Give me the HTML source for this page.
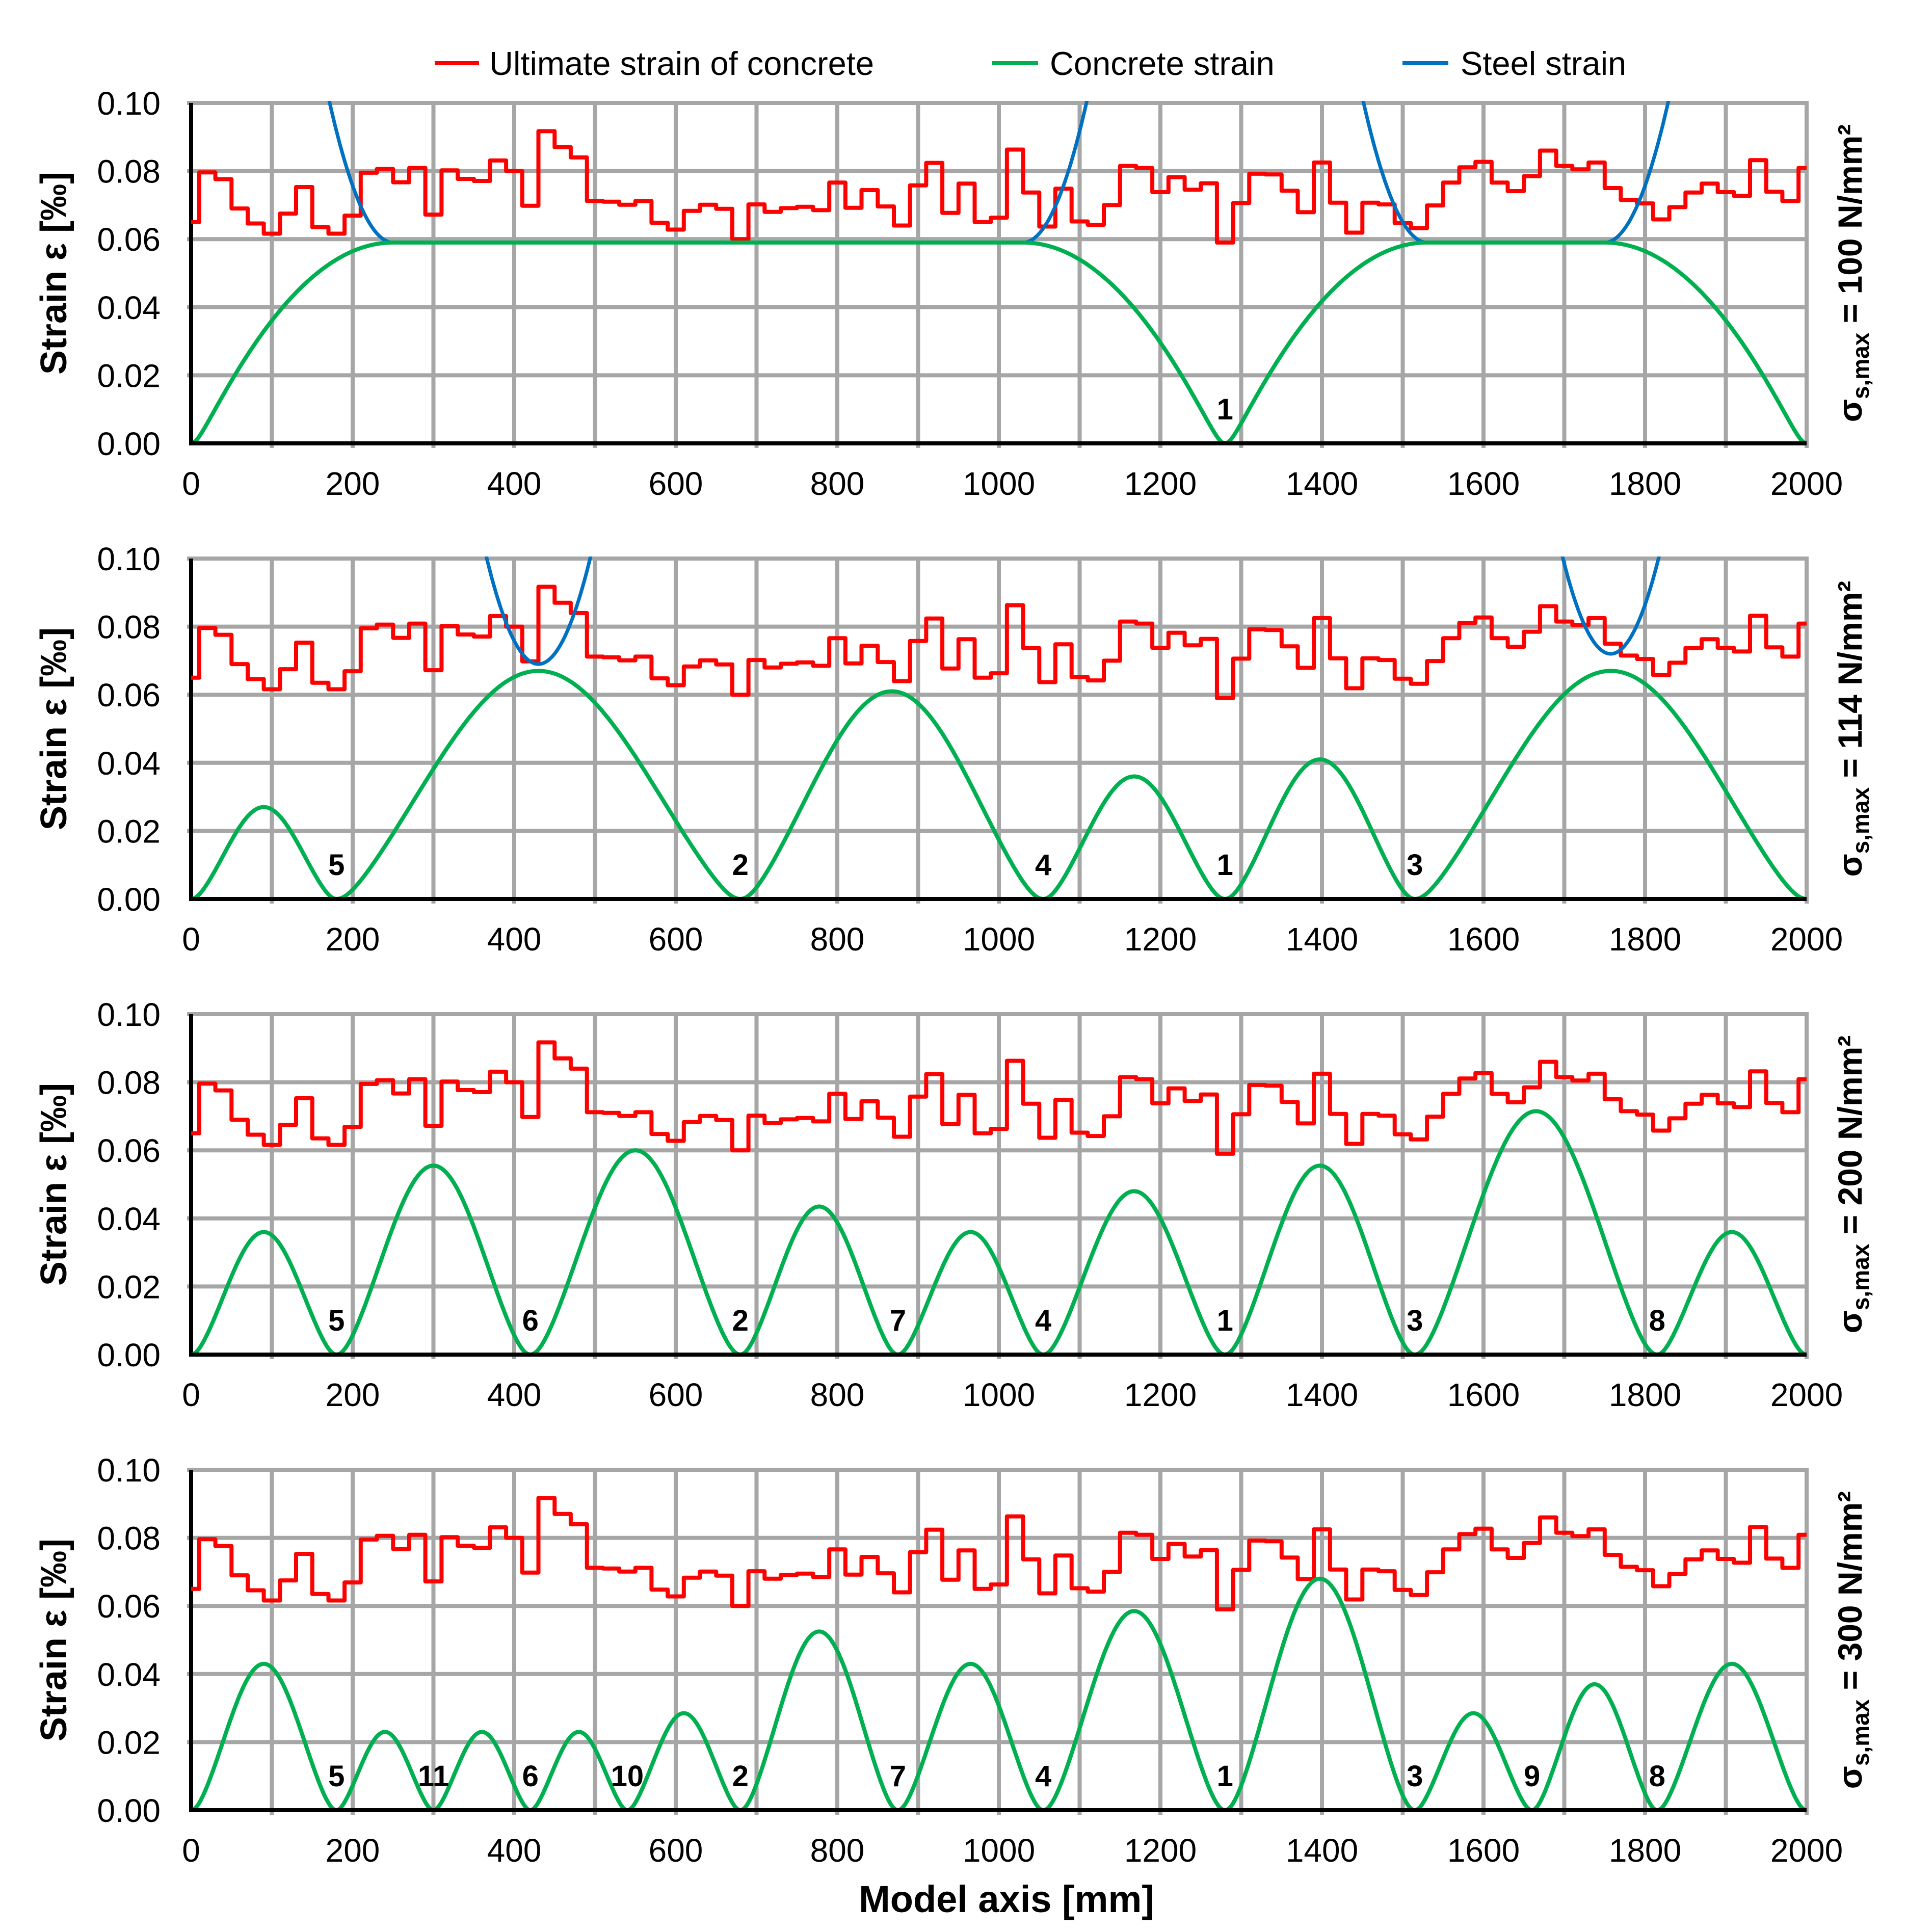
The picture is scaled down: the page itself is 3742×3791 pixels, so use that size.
<!DOCTYPE html>
<html><head><meta charset="utf-8"><title>Strain chart</title>
<style>html,body{margin:0;padding:0;background:#fff}svg{display:block}text{font-family:"Liberation Sans",Arial,sans-serif}</style>
</head><body>
<svg id="chart" xmlns="http://www.w3.org/2000/svg" width="3742" height="3791" viewBox="0 0 3742 3791">
<rect x="0" y="0" width="3742" height="3791" fill="#fff"/>
<g>
<line x1="853" y1="124" x2="940" y2="124" stroke="#ff0000" stroke-width="8"/>
<text x="960" y="147" font-size="65">Ultimate strain of concrete</text>
<line x1="1947" y1="124" x2="2037" y2="124" stroke="#00b050" stroke-width="8"/>
<text x="2060" y="147" font-size="65">Concrete strain</text>
<line x1="2752" y1="124" x2="2842" y2="124" stroke="#0070c0" stroke-width="8"/>
<text x="2866" y="147" font-size="65">Steel strain</text>
</g>
<text x="1975" y="3752" font-size="74" font-weight="bold" text-anchor="middle">Model axis [mm]</text>
<g id="panels"></g>
</svg>
<script>
// ---- data ----
const stepStarts = [0,10,30,50,70,90,110,130,150,170,190,210,230,250,270,290,310,330,350,370,390,410,430,450,470,490,510,530,550,570,590,610,630,650,670,690,710,730,750,770,790,810,830,850,870,890,910,930,950,970,990,1010,1030,1050,1070,1090,1110,1130,1150,1170,1190,1210,1230,1250,1270,1290,1310,1330,1350,1370,1390,1410,1430,1450,1470,1490,1510,1530,1550,1570,1590,1610,1630,1650,1670,1690,1710,1730,1750,1770,1790,1810,1830,1850,1870,1890,1910,1930,1950,1970,1990];
const ultimateStrain = [0.065,0.0796,0.0776,0.069,0.0646,0.0616,0.0675,0.0753,0.0635,0.0616,0.0669,0.0795,0.0806,0.0767,0.0809,0.0672,0.0802,0.0777,0.0771,0.0831,0.080,0.0698,0.0917,0.087,0.084,0.0712,0.071,0.0701,0.0712,0.0648,0.0628,0.0683,0.0701,0.0689,0.060,0.0702,0.068,0.0691,0.0695,0.0685,0.0766,0.0692,0.0744,0.0696,0.064,0.0758,0.0824,0.0677,0.0763,0.065,0.0663,0.0863,0.0737,0.0637,0.0748,0.0652,0.0642,0.070,0.0815,0.0809,0.0738,0.0782,0.0745,0.0764,0.059,0.0706,0.0792,0.079,0.0742,0.0679,0.0825,0.0707,0.0619,0.0707,0.0702,0.0647,0.0632,0.0699,0.0766,0.0811,0.0827,0.0766,0.0741,0.0785,0.086,0.0815,0.0805,0.0825,0.075,0.0715,0.0705,0.0658,0.0694,0.0737,0.0763,0.0738,0.0727,0.0832,0.0739,0.0712,0.0809];
const stepEnd = 2000;
const panelStress = ["100","114","200","300"];
const steelAtCrack = [0.476,0.543,0.952,1.43];
const transferLength = 250;
const cracks1 = [0,1280,2000];
const peaks1 = [0.059,0.059];
const cracks2 = [0,180,680,1055,1280,1515,2000];
const peaks2 = [0.027,0.067,0.061,0.036,0.041,0.067];
const cracks3 = [0,180,420,680,875,1055,1280,1515,1815,2000];
const peaks3 = [0.036,0.0555,0.060,0.0435,0.036,0.048,0.0555,0.0715,0.036];
const cracks4 = [0,180,300,420,540,680,875,1055,1280,1515,1660,1815,2000];
const peaks4 = [0.043,0.023,0.023,0.023,0.0285,0.0525,0.043,0.0585,0.068,0.0285,0.037,0.043];
const crackPos2 = [180,680,1055,1280,1515];
const crackNum2 = ["5","2","4","1","3"];
const crackPos3 = [180,420,680,875,1055,1280,1515,1815];
const crackNum3 = ["5","6","2","7","4","1","3","8"];
const crackPos4 = [180,300,420,540,680,875,1055,1280,1515,1660,1815];
const crackNum4 = ["5","11","6","10","2","7","4","1","3","9","8"];
const crackPos1 = [1280];
const crackNum1 = ["1"];
const steelSegStart1 = [0,1280], steelSegEnd1 = [1280,2000], steelMin1 = [0.059,0.059];
const steelSegStart2 = [180,1515], steelSegEnd2 = [680,2000], steelMin2 = [0.069,0.072];
const xTicks = [0,200,400,600,800,1000,1200,1400,1600,1800,2000];
const yTicks = [0,0.02,0.04,0.06,0.08,0.10];
const yTickLabels = ["0.00","0.02","0.04","0.06","0.08","0.10"];

const panelCracks=[cracks1,cracks2,cracks3,cracks4];
const panelPeaks=[peaks1,peaks2,peaks3,peaks4];
const panelCrackPos=[crackPos1,crackPos2,crackPos3,crackPos4];
const panelCrackNum=[crackNum1,crackNum2,crackNum3,crackNum4];
const panelSteel=[[steelSegStart1,steelSegEnd1,steelMin1],[steelSegStart2,steelSegEnd2,steelMin2],[[],[],[]],[[],[],[]]];

// ---- layout ----
const NS="http://www.w3.org/2000/svg";
const X0=375, X1=3545, H=668;
const tops=[202,1096,1990,2884];
function xs(mm){return X0+(mm/2000)*(X1-X0);}
function mk(tag,attrs,parent){const e=document.createElementNS(NS,tag);for(const k in attrs)e.setAttribute(k,attrs[k]);parent.appendChild(e);return e;}
function soft(d,c){return Math.sqrt(d*d+c*c)-c;}
function shape(d,h){
  if(h>transferLength){
    const c=10;
    const t=Math.min(soft(d,c)/soft(transferLength,c),1);
    return 1-(1-t)*(1-t);
  }
  const c=Math.min(0.16*h,22);
  const t=soft(d,c)/soft(h,c);
  const q=1-(1-t)*(1-t), cs=(1-Math.cos(Math.PI*t))/2;
  return 0.6*q+0.4*cs;
}
function shapeSteel(d,h){let t; if(h>transferLength){t=Math.min(d/transferLength,1);}else{t=d/h;} return 1-(1-t)*(1-t);}

const root=document.getElementById('panels');
for(let p=0;p<4;p++){
  const top=tops[p], zero=top+H;
  const ys=v=>zero-(v/0.1)*H;
  const g=mk('g',{},root);
  
  
  const cid='clip'+p;
  const cp=mk('clipPath',{id:cid},g);
  mk('rect',{x:X0,y:top-4,width:X1-X0+6,height:H+8},cp);
  for(let mm=100;mm<=2000;mm+=100){
    const l=mk('line',{x1:xs(mm),y1:top,x2:xs(mm),y2:zero+9,stroke:'#a6a6a6','stroke-width':8},g);
    
    
  }
  for(let i=1;i<yTicks.length;i++){
    const l=mk('line',{x1:X0-8,y1:ys(yTicks[i]),x2:X1+4,y2:ys(yTicks[i]),stroke:'#a6a6a6','stroke-width':8},g);
    
    
  }
  const ya=mk('line',{x1:X0,y1:top,x2:X0,y2:zero+4,stroke:'#000','stroke-width':8},g);
  
  
  for(let i=0;i<yTicks.length;i++){
    const t=mk('text',{x:315,y:ys(yTicks[i])+23,'font-size':64,'text-anchor':'end'},g);
    t.textContent=yTickLabels[i];
    
    
  }
  for(let i=0;i<xTicks.length;i++){
    const t=mk('text',{x:xs(xTicks[i]),y:zero+101,'font-size':64,'text-anchor':'middle'},g);
    t.textContent=String(xTicks[i]);
    
    
  }
  const yc=top+H/2;
  const yt=mk('text',{transform:`translate(130,${yc}) rotate(-90)`,'font-size':72,'font-weight':'bold','text-anchor':'middle'},g);
  yt.textContent='Strain ε [‰]';
  
  
  const rt=mk('text',{transform:`translate(3653,${yc}) rotate(-90)`,'font-size':66,'font-weight':'bold','text-anchor':'middle'},g);
  
  
  const s1=mk('tspan',{},rt); s1.textContent='σ';
  const s2=mk('tspan',{'font-size':46,dy:14},rt); s2.textContent='s,max';
  const s3=mk('tspan',{dy:-14},rt); s3.textContent=' = '+panelStress[p]+' N/mm²';
  const cg=mk('g',{'clip-path':`url(#${cid})`},g);
  let d='';
  for(let i=0;i<stepStarts.length;i++){
    const a=stepStarts[i], b=(i+1<stepStarts.length)?stepStarts[i+1]:stepEnd;
    d+=(i===0?'M':'L')+xs(a).toFixed(1)+' '+ys(ultimateStrain[i]).toFixed(1)+' L'+xs(b).toFixed(1)+' '+ys(ultimateStrain[i]).toFixed(1)+' ';
  }
  const rp=mk('path',{d:d,fill:'none',stroke:'#ff0000','stroke-width':8,'stroke-linejoin':'round'},cg);
  
  
  const [ss,se,sm]=panelSteel[p];
  for(let k=0;k<ss.length;k++){
    const a=ss[k], b=se[k], h=(b-a)/2; let pd='';
    for(let x=a;x<=b+0.01;x+=2){
      const dd=Math.min(x-a,b-x);
      let v=steelAtCrack[p]-(steelAtCrack[p]-sm[k])*shapeSteel(dd,h);
      v=Math.min(v,0.12);
      pd+=(pd?'L':'M')+xs(x).toFixed(1)+' '+ys(v).toFixed(1)+' ';
    }
    const bp=mk('path',{d:pd,fill:'none',stroke:'#0070c0','stroke-width':7},cg);
    
    
  }
  const cr=panelCracks[p], pk=panelPeaks[p]; let cd='';
  for(let k=0;k<cr.length-1;k++){
    const a=cr[k], b=cr[k+1], h=(b-a)/2;
    for(let x=a;x<=b+0.01;x+=2){
      const dd=Math.min(x-a,b-x);
      const v=pk[k]*shape(dd,h);
      cd+=(cd?'L':'M')+xs(x).toFixed(1)+' '+ys(v).toFixed(1)+' ';
    }
  }
  const gp=mk('path',{d:cd,fill:'none',stroke:'#00b050','stroke-width':8,'stroke-linejoin':'round'},cg);
  
  
  const xa=mk('line',{x1:X0-4,y1:zero,x2:X1,y2:zero,stroke:'#000','stroke-width':8},g);
  
  
  const cp2=panelCrackPos[p], cn=panelCrackNum[p];
  for(let i=0;i<cp2.length;i++){
    const t=mk('text',{x:xs(cp2[i]),y:zero-47,'font-size':58,'font-weight':'bold','text-anchor':'middle'},g);
    t.textContent=cn[i];
    
    
  }
}
</script>
</body></html>
